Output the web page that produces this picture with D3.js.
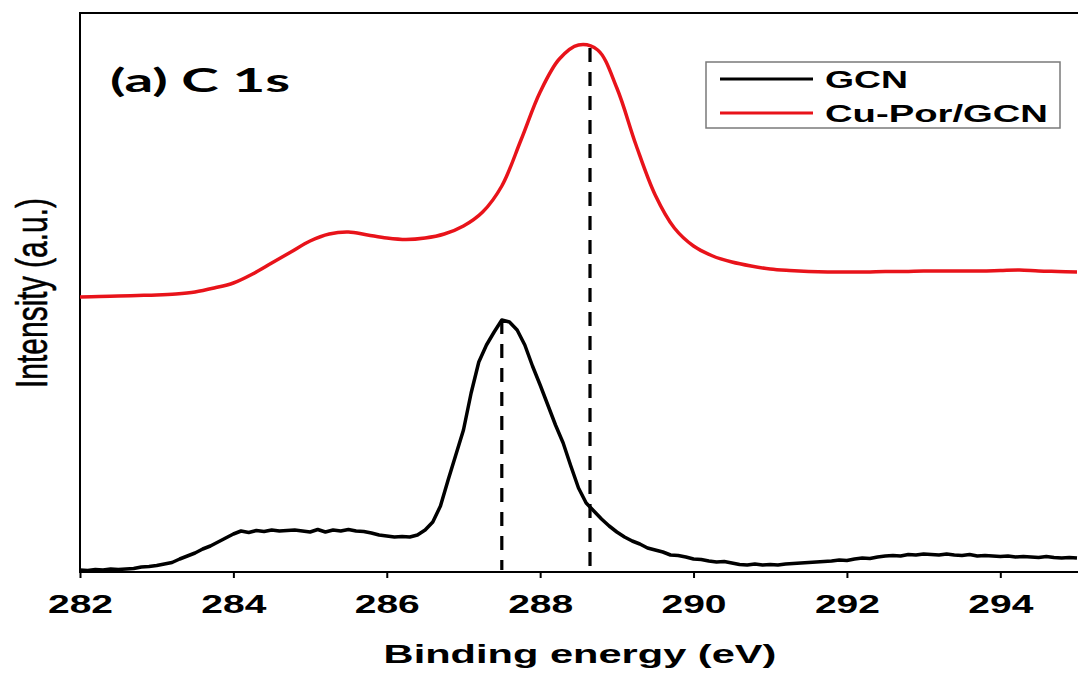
<!DOCTYPE html>
<html>
<head>
<meta charset="utf-8">
<script src="https://cdn.jsdelivr.net/npm/d3@7"></script>
<style>
  html, body { margin: 0; padding: 0; background: #fff; }
  svg { display: block; }
</style>
</head>
<body>
<svg id="chart" width="1078" height="674"></svg>
<script>
// C 1s XPS spectra: GCN (0.1 eV steps) and Cu-Por/GCN (0.25 eV steps), intensity in a.u.
const gcnEnergy = d3.range(0, 131).map(i => +(282 + i * 0.1).toFixed(1));
const gcnIntensity = [
  2, 1.5, 2.5, 2, 3, 2.5, 3, 3.5, 5, 5.5,
  6.5, 8, 9.5, 13, 16, 19, 23, 26, 30, 34,
  38, 41, 39.5, 41.5, 40.5, 42, 41, 41.5, 42, 41,
  40, 42.5, 40, 42, 41, 42.5, 41, 40.5, 39, 37,
  36, 35, 35.5, 35, 37, 42, 50, 66, 92, 117,
  142, 179, 210, 227, 240, 252, 250, 242, 227, 206,
  187, 167, 147, 129, 106, 84, 69, 61, 53, 46,
  40, 35, 31, 28, 24, 22, 20, 17, 16.5, 15,
  13, 12.5, 11, 10, 10.5, 9, 7.5, 7, 8, 7,
  7.5, 7, 8, 8.5, 9, 9.5, 10, 10.5, 11, 12,
  11.5, 13, 14, 13.5, 15, 16, 16.5, 16, 17.5, 17,
  18, 17.5, 17, 18, 17, 16.5, 17.5, 16, 16.5, 16,
  15.5, 16, 15, 15.5, 15, 14.5, 15.5, 14.5, 14, 14.5,
  14
];

const cuPorEnergy = d3.range(0, 53).map(i => 282 + i * 0.25);
const cuPorIntensity = [
  275, 275.5, 276, 276.5, 277, 278, 280, 284, 289, 298,
  309, 320, 331, 338, 340, 337, 334, 332.5, 334, 338,
  346, 360, 386, 432, 480, 513, 527, 522, 484, 427,
  377, 344, 326, 316, 310, 306, 303, 301.5, 300.5, 300,
  300, 300, 300.5, 300.5, 301, 301, 301, 301, 301.5, 302,
  301, 300.5, 300
];

const seriesNames = ["GCN", "Cu-Por/GCN"];
const seriesColors = ["#000000", "#e8131a"];
const peakPositions = [287.5, 288.65];   // dashed markers, one per series
const xTicks = [282, 284, 286, 288, 290, 292, 294];
const xDomain = [282, 295];
const yDomain = [0, 559];

const titleText = "(a) C 1s";
const xLabel = "Binding energy (eV)";
const yLabel = "Intensity (a.u.)";

const svg = d3.select("#chart");
const plot = { left: 80, right: 1077, top: 13, bottom: 572 };

const x = d3.scaleLinear().domain(xDomain).range([plot.left, plot.right]);
const y = d3.scaleLinear().domain(yDomain).range([plot.bottom, plot.top]);

const series = [
  { name: seriesNames[0], color: seriesColors[0], curve: d3.curveLinear,
    pts: gcnEnergy.map((e, i) => [e, gcnIntensity[i]]) },
  { name: seriesNames[1], color: seriesColors[1], curve: d3.curveCatmullRom.alpha(0.5),
    pts: cuPorEnergy.map((e, i) => [e, cuPorIntensity[i]]) }
];

// value of a series at an arbitrary energy (linear between samples)
function valueAt(pts, e) {
  const i = d3.bisector(d => d[0]).left(pts, e);
  if (i <= 0) return pts[0][1];
  if (i >= pts.length) return pts[pts.length - 1][1];
  const a = pts[i - 1], b = pts[i];
  return a[1] + (b[1] - a[1]) * (e - a[0]) / (b[0] - a[0]);
}

// frame: left and top border (right side runs off the canvas)
svg.append("line")
  .attr("x1", plot.left).attr("x2", plot.left)
  .attr("y1", plot.top).attr("y2", plot.bottom)
  .attr("stroke", "#000").attr("stroke-width", 2);
svg.append("line")
  .attr("x1", plot.left - 1).attr("x2", 1078)
  .attr("y1", plot.top).attr("y2", plot.top)
  .attr("stroke", "#000").attr("stroke-width", 2);

// dashed peak markers
peakPositions.forEach((pe, k) => {
  const v = valueAt(series[k].pts, pe);
  svg.append("line")
    .attr("x1", x(pe)).attr("x2", x(pe))
    .attr("y1", y(v)).attr("y2", plot.bottom - 2)
    .attr("stroke", "#000").attr("stroke-width", 3.2)
    .attr("stroke-dasharray", "14,10");
});

// spectra
series.forEach(s => {
  const line = d3.line().x(d => x(d[0])).y(d => y(d[1])).curve(s.curve);
  svg.append("path")
    .datum(s.pts)
    .attr("fill", "none")
    .attr("stroke", s.color)
    .attr("stroke-width", 3.5)
    .attr("stroke-linejoin", "round")
    .attr("d", line);
});

// x axis
const xAxis = svg.append("g")
  .attr("transform", `translate(0,${plot.bottom})`)
  .call(d3.axisBottom(x).tickValues(xTicks).tickSize(6).tickSizeOuter(0).tickFormat(d3.format("d")));
xAxis.select(".domain").attr("stroke-width", 2).attr("d", `M${plot.left - 1},0H1078`);
xAxis.selectAll(".tick line").attr("stroke-width", 2);
xAxis.selectAll(".tick text")
  .attr("y", 0).attr("dy", 0)
  .attr("transform", "translate(0,41) scale(1.5,1)")
  .attr("font-family", "'Liberation Sans', Arial, sans-serif")
  .attr("font-weight", "bold")
  .attr("font-size", 26)
  .attr("fill", "#000");

// axis titles
svg.append("text")
  .attr("transform", "translate(580,663) scale(1.6,1)")
  .attr("text-anchor", "middle")
  .attr("font-family", "'Liberation Sans', Arial, sans-serif")
  .attr("font-weight", "bold")
  .attr("font-size", 26)
  .text(xLabel);

svg.append("text")
  .attr("transform", "translate(47,293) scale(1.5,1) rotate(-90)")
  .attr("text-anchor", "middle")
  .attr("font-family", "'Liberation Sans', Arial, sans-serif")
  .attr("font-size", 30)
  .attr("stroke", "#000").attr("stroke-width", 0.4)
  .text(yLabel);

// panel title
svg.append("text")
  .attr("x", 110).attr("y", 92)
  .attr("font-family", "Lato, 'Open Sans', sans-serif")
  .attr("font-weight", "bold")
  .attr("font-size", 33)
  .attr("textLength", 180)
  .attr("lengthAdjust", "spacingAndGlyphs")
  .text(titleText);

// legend
const legend = svg.append("g");
legend.append("rect")
  .attr("x", 706).attr("y", 62).attr("width", 354).attr("height", 66)
  .attr("fill", "#fff").attr("stroke", "#7a7a7a").attr("stroke-width", 1.5);
const legendRows = [79, 113];
const legendWidths = [83, 223];
series.forEach((s, i) => {
  legend.append("line")
    .attr("x1", 720).attr("x2", 813)
    .attr("y1", legendRows[i]).attr("y2", legendRows[i])
    .attr("stroke", s.color).attr("stroke-width", 3);
  legend.append("text")
    .attr("x", 825).attr("y", legendRows[i] + 8.5)
    .attr("font-family", "'Liberation Sans', Arial, sans-serif")
    .attr("font-weight", "bold")
    .attr("font-size", 23)
    .attr("textLength", legendWidths[i])
    .attr("lengthAdjust", "spacingAndGlyphs")
    .text(s.name);
});
</script>
</body>
</html>
